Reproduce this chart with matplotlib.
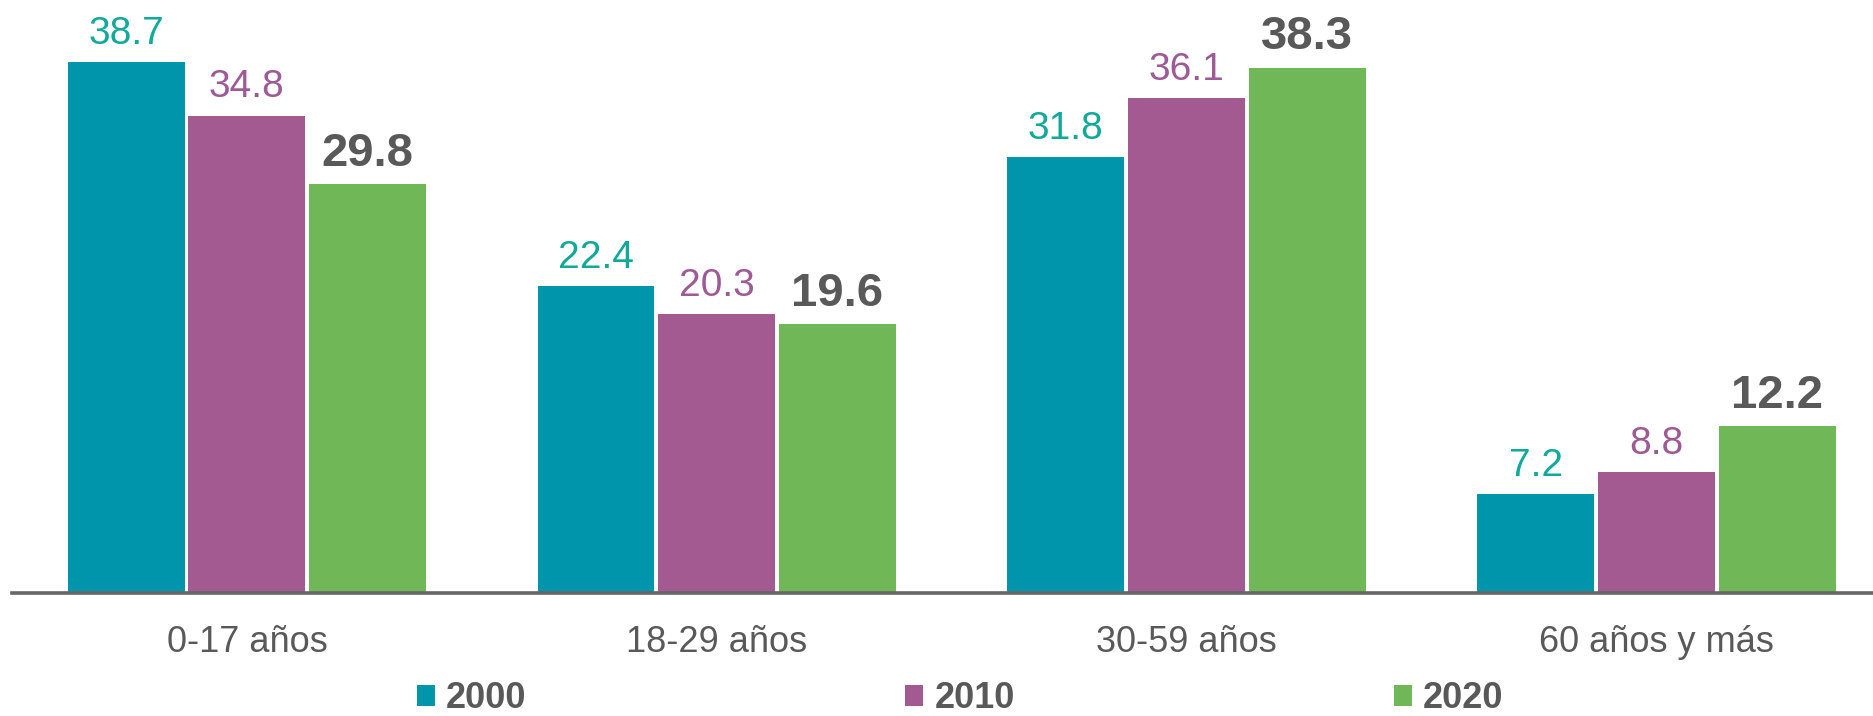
import numpy as np
import matplotlib.pyplot as plt
from matplotlib.patches import Patch

plt.rcParams['font.family'] = ['Liberation Sans', 'DejaVu Sans']

# data
categories = ['0-17 años', '18-29 años', '30-59 años', '60 años y más']
years = ['2000', '2010', '2020']
vals_2000 = [38.7, 22.4, 31.8, 7.2]
vals_2010 = [34.8, 20.3, 36.1, 8.8]
vals_2020 = [29.8, 19.6, 38.3, 12.2]

bar_colours = ['#0095AA', '#A25A91', '#70B757']
label_colours = ['#12A99B', '#9E5A96', '#595959']
grey = '#595959'

W, H = 1873, 716
fig = plt.figure(figsize=(W/100, H/100), dpi=100)
ax = fig.add_axes([12/W, 1-593/H, 1-12/W, 593/H])

x = np.arange(len(categories))
offset = 0.257
width = 0.249
series = [vals_2000, vals_2010, vals_2020]
for k, vals in enumerate(series):
	pos = x + (k-1)*offset
	ax.bar(pos, vals, width, color=bar_colours[k], label=years[k])
	for xi, v in zip(pos, vals):
		if k == 2:
			ax.annotate(f'{v:.1f}', (xi, v), xytext=(0, 13), textcoords='offset points',
				ha='center', va='baseline', fontsize=34, fontweight='bold', color=grey)
		else:
			ax.annotate(f'{v:.1f}', (xi, v), xytext=(0, 13), textcoords='offset points',
				ha='center', va='baseline', fontsize=28, color=label_colours[k])

ax.set_xlim(-0.5, 3.461)
ax.set_ylim(0, 593/13.72)
ax.set_xticks(x, categories)
ax.tick_params(axis='x', length=0, pad=23, labelsize=26, labelcolor=grey)
ax.set_yticks([])
for s in ['top', 'left', 'right']:
	ax.spines[s].set_visible(False)
ax.spines['bottom'].set_color('#666666')
ax.spines['bottom'].set_linewidth(2.6)

handles = [Patch(facecolor=c, edgecolor='none') for c in bar_colours]
leg = fig.legend(handles, years, loc='center', bbox_to_anchor=(960/W, 1-699/H), ncol=3,
	frameon=False, borderpad=0, handlelength=0.5, handleheight=0.5, handletextpad=0.3,
	columnspacing=10.5, prop={'size': 26, 'weight': 'bold'})
for t in leg.get_texts():
	t.set_color(grey)

fig.savefig('out.png', dpi=100)
